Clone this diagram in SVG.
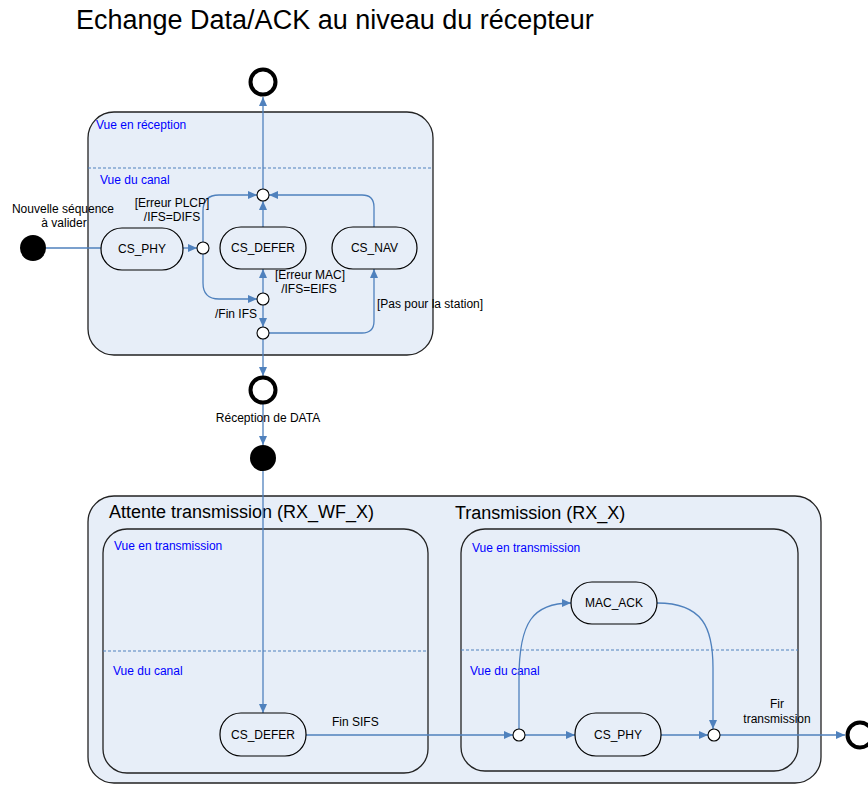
<svg xmlns="http://www.w3.org/2000/svg" width="868" height="785" viewBox="0 0 868 785">
  <style>
    .title { font-family: "Liberation Sans", Arial, sans-serif; font-size: 27px; fill: #000; }
    .sub { font-family: "Liberation Sans", Arial, sans-serif; font-size: 18px; fill: #000; }
    .lbl { font-family: "Liberation Sans", Arial, sans-serif; font-size: 12px; fill: #000; }
    .view { font-family: "Liberation Sans", Arial, sans-serif; font-size: 12px; fill: #0000FF; }
    .box { fill: #E7EEF8; stroke: #222; stroke-width: 1.3; }
    .sep { stroke: #4F81BD; stroke-width: 1; stroke-dasharray: 3 2; fill: none; }
    .state { fill: #E7EEF8; stroke: #000; stroke-width: 1.2; }
    .junction { fill: #FFFFFF; stroke: #000; stroke-width: 1.1; }
    .final { fill: #FFFFFF; stroke: #000; stroke-width: 4; }
    .initial { fill: #000; }
    .edge { fill: none; stroke: #4F81BD; stroke-width: 1.3; }
    .arr { marker-end: url(#head); }
  </style>
  <defs>
    <marker id="head" markerUnits="userSpaceOnUse" markerWidth="10" markerHeight="8" refX="9" refY="4" orient="auto">
      <path d="M0,0 L9,4 L0,8 z" fill="#4F81BD"/>
    </marker>
  </defs>

  <rect width="868" height="785" fill="#FFFFFF"/>

  <text class="title" x="76" y="29">Echange Data/ACK au niveau du récepteur</text>

  <!-- Reception composite state -->
  <g id="reception">
    <rect class="box" x="88" y="112" width="345" height="243" rx="26"/>
    <line class="sep" x1="88" y1="168" x2="433" y2="168"/>
    <text class="view" x="96" y="129">Vue en réception</text>
    <text class="view" x="100" y="184">Vue du canal</text>
  </g>

  <!-- Bottom composite: waiting + transmission -->
  <g id="exchange">
    <rect class="box" x="88" y="496" width="733" height="287" rx="26"/>
    <text class="sub" x="109" y="518">Attente transmission (RX_WF_X)</text>
    <text class="sub" x="455" y="519">Transmission (RX_X)</text>
  </g>

  <g id="rx-wf-x">
    <rect class="box" x="103" y="529" width="325" height="244" rx="24"/>
    <line class="sep" x1="103" y1="651" x2="428" y2="651"/>
    <text class="view" x="114" y="550">Vue en transmission</text>
    <text class="view" x="113" y="675">Vue du canal</text>
  </g>

  <g id="rx-x">
    <rect class="box" x="461" y="529" width="337" height="242" rx="24"/>
    <line class="sep" x1="461" y1="650" x2="798" y2="650"/>
    <text class="view" x="472" y="552">Vue en transmission</text>
    <text class="view" x="470" y="675">Vue du canal</text>
  </g>

  <!-- Connectors -->
  <g id="connectors">
    <line class="edge" x1="46" y1="248" x2="101" y2="248"/>
    <line class="edge arr" x1="183" y1="248" x2="197" y2="248"/>
    <path class="edge arr" d="M203,242 V211 Q203,195 219,195 H257"/>
    <path class="edge arr" d="M203,254 V283 Q203,299 219,299 H257"/>
    <line class="edge arr" x1="263" y1="227" x2="263" y2="201"/>
    <path class="edge arr" d="M374,227 V207 Q374,195 362,195 H269"/>
    <line class="edge arr" x1="263" y1="189" x2="263" y2="97"/>
    <line class="edge arr" x1="263" y1="293" x2="263" y2="269"/>
    <line class="edge arr" x1="263" y1="305" x2="263" y2="327"/>
    <path class="edge arr" d="M269,333 H362 Q374,333 374,321 V269"/>
    <line class="edge arr" x1="263" y1="339" x2="263" y2="376"/>
    <line class="edge arr" x1="263" y1="404" x2="263" y2="445"/>
    <line class="edge arr" x1="263" y1="471" x2="263" y2="713"/>
    <line class="edge arr" x1="306" y1="735" x2="513" y2="735"/>
    <line class="edge arr" x1="525" y1="735" x2="575" y2="735"/>
    <path class="edge arr" d="M519,729 V678 C519,622 533,603 571,603"/>
    <path class="edge arr" d="M657,603 C703,603 713,628 713,668 V729"/>
    <line class="edge arr" x1="661" y1="735" x2="708" y2="735"/>
    <line class="edge arr" x1="720" y1="735" x2="845" y2="735"/>
  </g>

  <!-- Pseudo-states -->
  <g id="start-sequence"><circle class="initial" cx="33" cy="248" r="13"/></g>
  <g id="end-top"><circle class="final" cx="263" cy="82" r="12.5"/></g>
  <g id="end-reception"><circle class="final" cx="263" cy="390" r="12.5"/></g>
  <g id="start-data"><circle class="initial" cx="263" cy="458" r="13"/></g>
  <g id="end-transmission"><circle class="final" cx="860" cy="735" r="12.5"/></g>

  <g id="j-phy"><circle class="junction" cx="203" cy="248" r="6"/></g>
  <g id="j-top"><circle class="junction" cx="263" cy="195" r="6"/></g>
  <g id="j-ifs"><circle class="junction" cx="263" cy="299" r="6"/></g>
  <g id="j-low"><circle class="junction" cx="263" cy="333" r="6"/></g>
  <g id="j-tx-in"><circle class="junction" cx="519" cy="735" r="6"/></g>
  <g id="j-tx-out"><circle class="junction" cx="714" cy="735" r="6"/></g>

  <!-- States -->
  <g id="cs-phy-rx">
    <rect class="state" x="101" y="228" width="82" height="42" rx="21"/>
    <text class="lbl" x="142" y="253" text-anchor="middle">CS_PHY</text>
  </g>
  <g id="cs-defer-rx">
    <rect class="state" x="220" y="227" width="86" height="42" rx="21"/>
    <text class="lbl" x="263" y="252" text-anchor="middle">CS_DEFER</text>
  </g>
  <g id="cs-nav">
    <rect class="state" x="332" y="227" width="85" height="42" rx="21"/>
    <text class="lbl" x="374.5" y="252" text-anchor="middle">CS_NAV</text>
  </g>
  <g id="cs-defer-wf">
    <rect class="state" x="220" y="713" width="86" height="43" rx="21"/>
    <text class="lbl" x="263" y="739" text-anchor="middle">CS_DEFER</text>
  </g>
  <g id="mac-ack">
    <rect class="state" x="571" y="582" width="86" height="42" rx="21"/>
    <text class="lbl" x="614" y="607" text-anchor="middle">MAC_ACK</text>
  </g>
  <g id="cs-phy-tx">
    <rect class="state" x="575" y="713" width="86" height="43" rx="21"/>
    <text class="lbl" x="618" y="739" text-anchor="middle">CS_PHY</text>
  </g>

  <!-- Transition labels -->
  <g id="labels">
    <text class="lbl" x="63" y="213" text-anchor="middle">Nouvelle séquence</text>
    <text class="lbl" x="64" y="227" text-anchor="middle">à valider</text>
    <text class="lbl" x="172" y="207" text-anchor="middle">[Erreur PLCP]</text>
    <text class="lbl" x="172" y="221" text-anchor="middle">/IFS=DIFS</text>
    <text class="lbl" x="310" y="279" text-anchor="middle">[Erreur MAC]</text>
    <text class="lbl" x="309" y="293" text-anchor="middle">/IFS=EIFS</text>
    <text class="lbl" x="377" y="308">[Pas pour la station]</text>
    <text class="lbl" x="257" y="318" text-anchor="end">/Fin IFS</text>
    <text class="lbl" x="268" y="422" text-anchor="middle">Réception de DATA</text>
    <text class="lbl" x="332" y="726">Fin SIFS</text>
    <text class="lbl" x="777" y="708" text-anchor="middle">Fir</text>
    <text class="lbl" x="777" y="723" text-anchor="middle">transmission</text>
  </g>
</svg>
